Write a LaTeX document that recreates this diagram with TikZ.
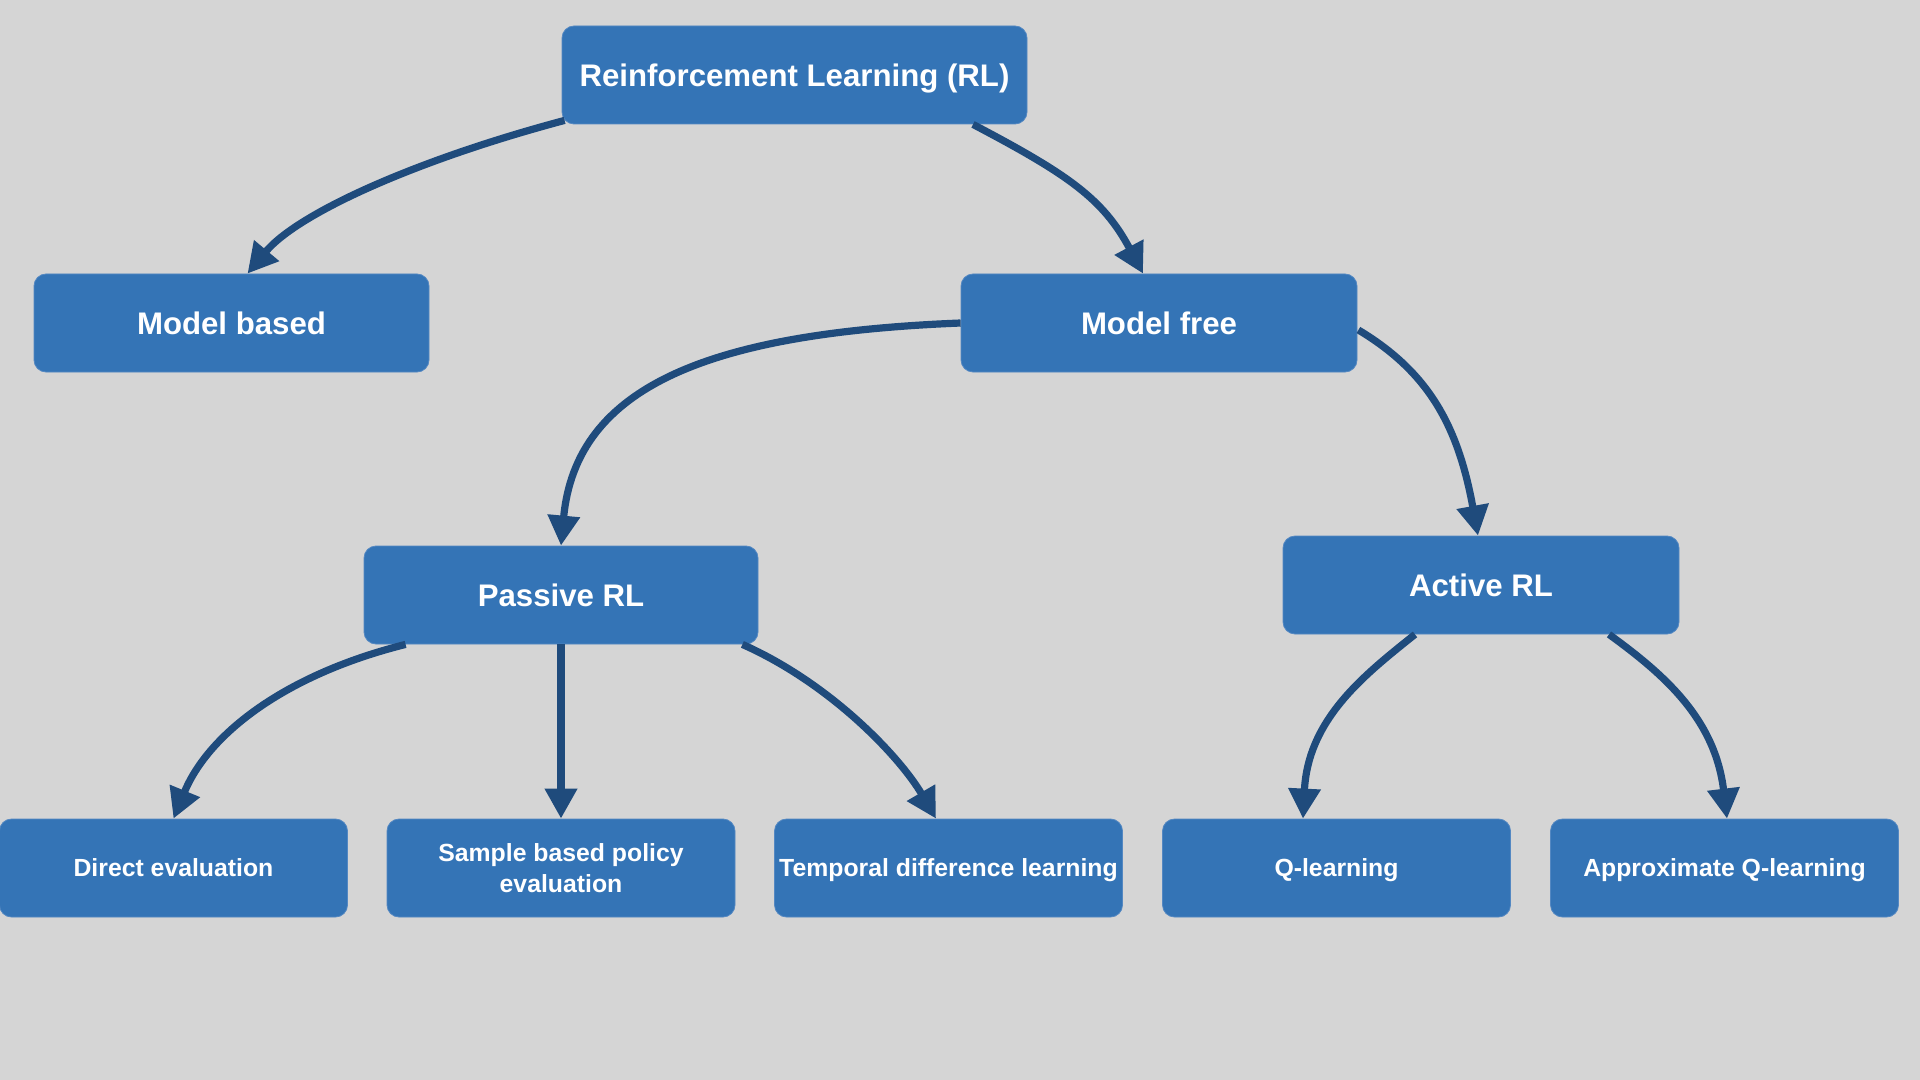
\documentclass[tikz,border=0pt]{standalone}
\usepackage{fontspec}
\setmainfont{Liberation Sans}
\usetikzlibrary{arrows.meta,calc}
\definecolor{bgc}{RGB}{213,213,213}
\definecolor{boxc}{RGB}{52,116,182}
\definecolor{boxline}{RGB}{84,136,194}
\definecolor{arrc}{RGB}{31,75,124}
\tikzset{
  box/.style={draw=boxline, line width=0.4pt, fill=boxc, rounded corners=6pt, inner sep=0pt,
    minimum height=49pt, text=white},
  bigbox/.style={box, font=\fontsize{15.6pt}{18pt}\selectfont\bfseries, text height=11.17pt, text depth=0pt},
  smallone/.style={box, minimum width=174pt, font=\fontsize{12.4pt}{15.5pt}\selectfont\bfseries, text height=8.88pt, text depth=0pt},
  smalltwo/.style={box, minimum width=174pt, align=center, font=\fontsize{12.4pt}{15.5pt}\selectfont\bfseries},
  conn/.style={draw=arrc, line width=3.6pt, -{Triangle[length=15pt,width=15.5pt]}, fill=none}
}
\begin{document}
\begin{tikzpicture}[x=0.5pt,y=-0.5pt]
\fill[bgc] (0,0) rectangle (1920,1080);
\useasboundingbox (0,0) rectangle (1920,1080);

\node[bigbox, minimum width=232.5pt] (rl) at (794.5,75) {Reinforcement Learning (RL)};
\node[bigbox, minimum width=197.5pt] (mb) at (231.5,323) {Model based};
\node[bigbox, minimum width=198pt] (mf) at (1159,323) {Model free};
\node[bigbox, minimum width=197pt] (pas) at (561,595) {Passive RL};
\node[bigbox, minimum width=198pt] (act) at (1481,585) {Active RL};

\node[smallone] (de) at (173.5,868) {Direct evaluation};
\node[smalltwo] (sb) at (561,868) {Sample based policy\\evaluation};
\node[smallone] (td) at (948.5,868) {Temporal difference learning};
\node[smallone] (q) at (1336.5,868) {Q-learning};
\node[smallone] (aq) at (1724.5,868) {Approximate Q-learning};

\draw[conn] ($(rl.south west)+(3,-4)$) .. controls +(-150,40) and +(50,-60) .. ($(mb.north)+(16,0)$);
\draw[conn] ($(rl.south)+(178.5,0)$) .. controls +(95,50) and +(-40,-75) .. ($(mf.north)+(-16,0)$);
\draw[conn] (mf.west) .. controls +(-250,10) and +(15,-160) .. (pas.north);
\draw[conn] ($(mf.east)+(1,7)$) .. controls +(70,42) and +(-20,-110) .. ($(act.north)+(-3,0)$);
\draw[conn] ($(pas.south west)+(42,0)$) .. controls +(-120,30) and +(35,-85) .. (de.north);
\draw[conn] (pas.south) -- (sb.north);
\draw[conn] ($(pas.south east)+(-16,0)$) .. controls +(90,40) and +(-35,-60) .. ($(td.north)+(-12.5,0)$);
\draw[conn] ($(act.south)+(-66,0)$) .. controls +(-50,40) and +(5,-100) .. ($(q.north)+(-33.5,0)$);
\draw[conn] ($(act.south)+(128,0)$) .. controls +(55,40) and +(-12,-100) .. ($(aq.north)+(2.5,0)$);
\end{tikzpicture}
\end{document}
